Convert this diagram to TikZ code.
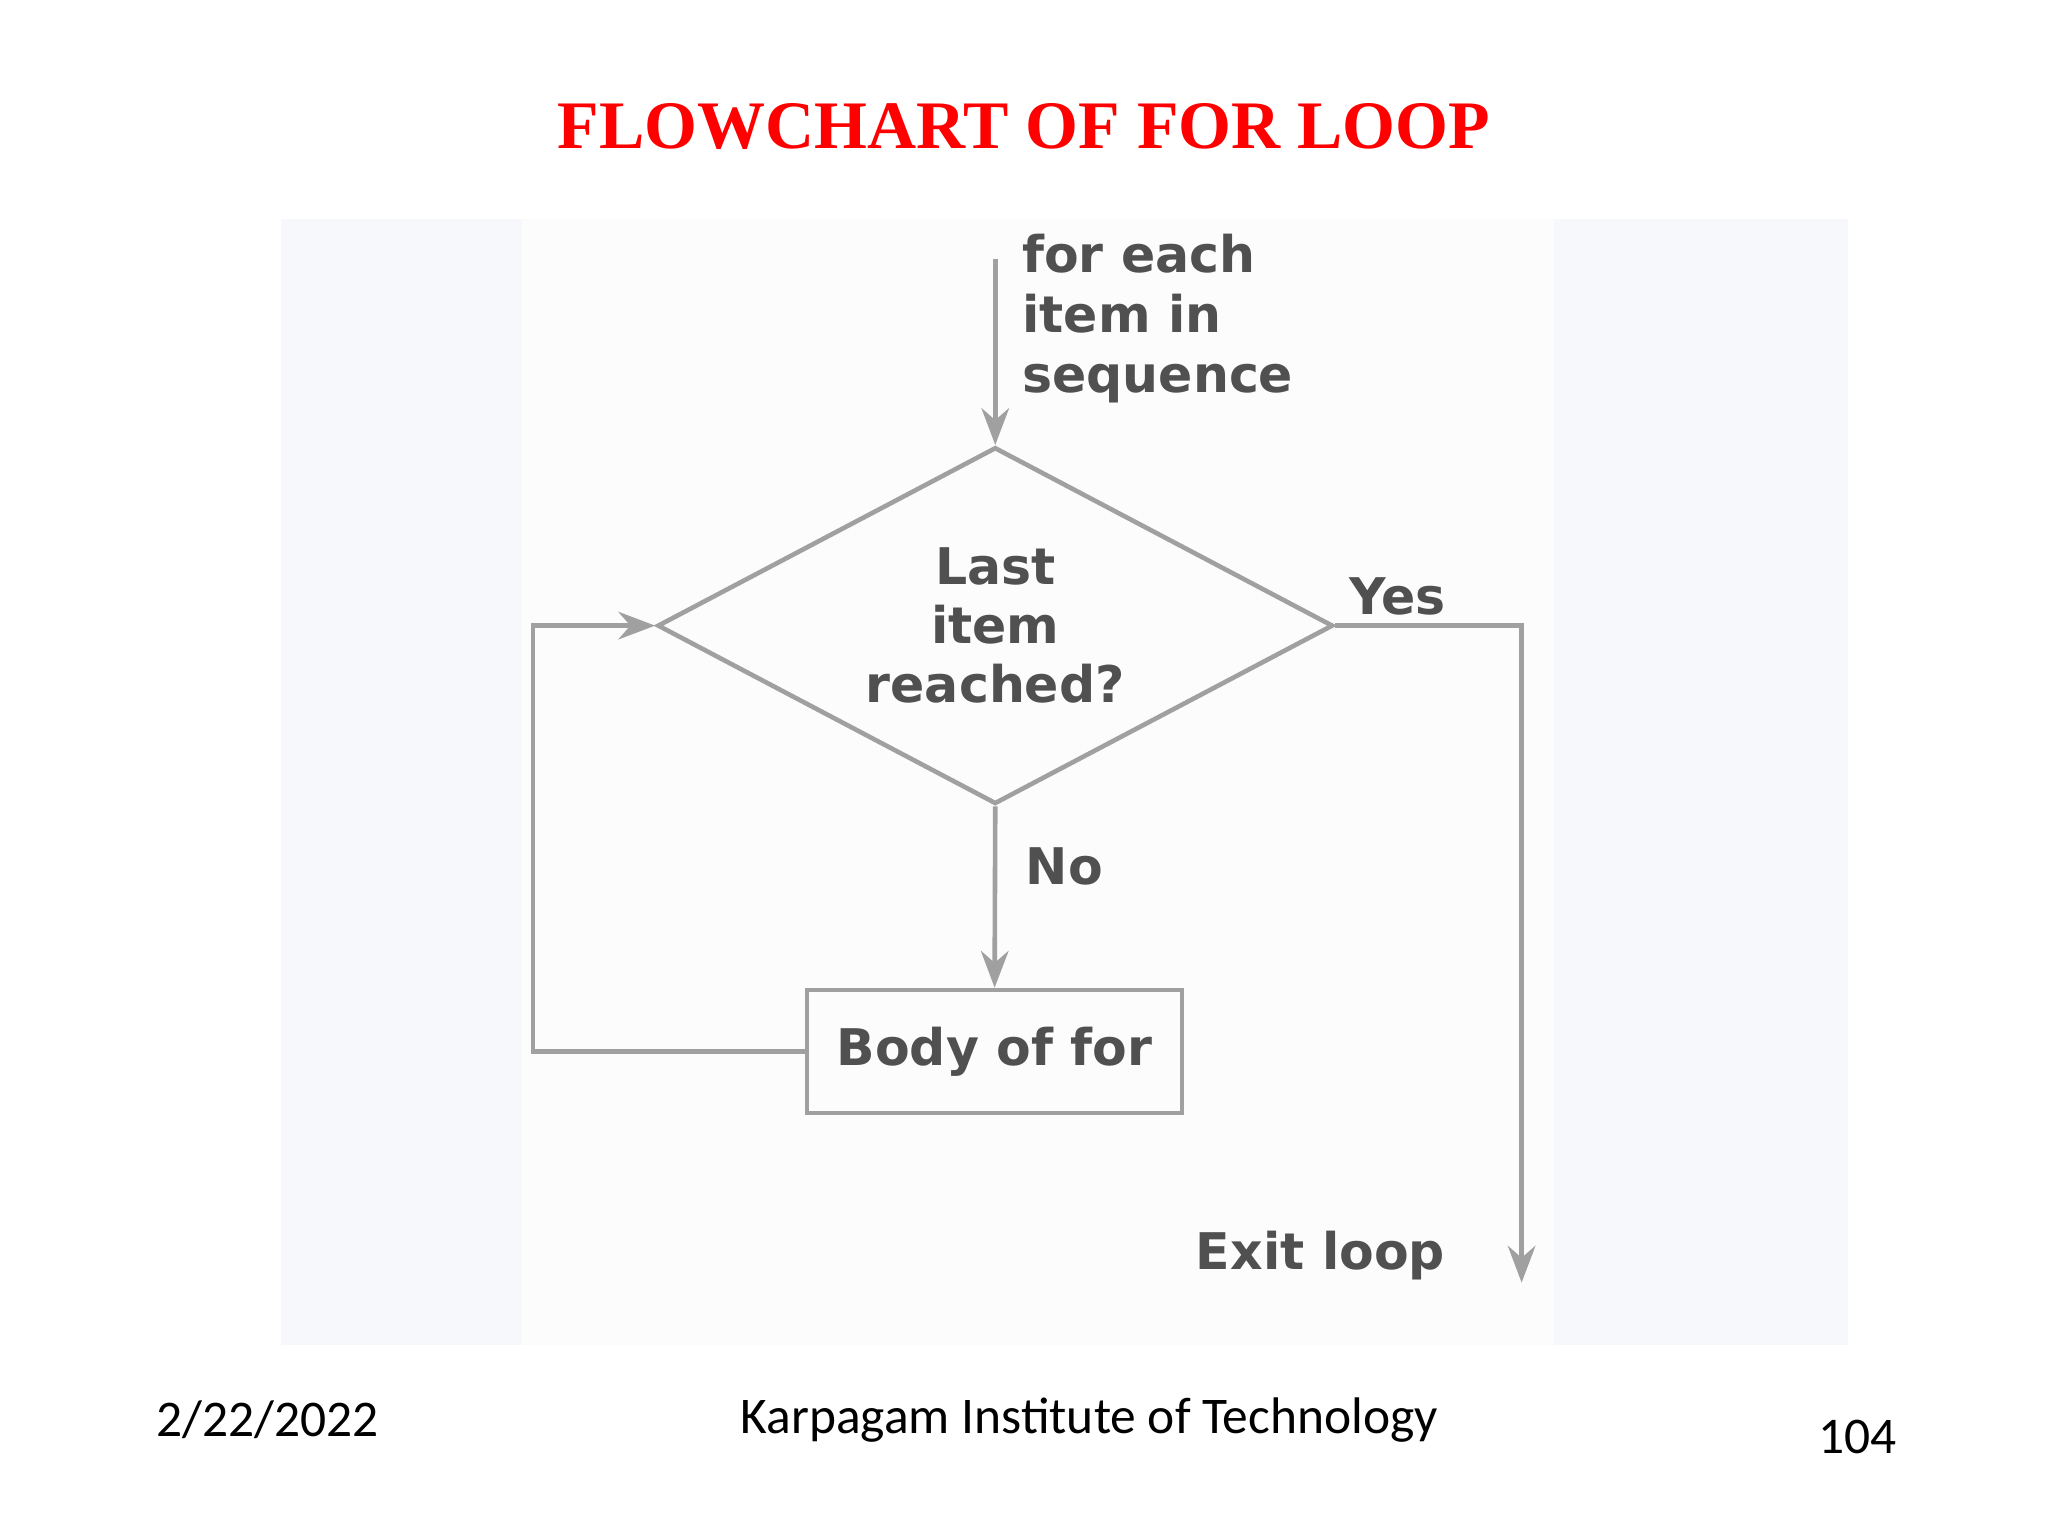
\documentclass[tikz,border=0pt]{standalone}
\usepackage{fontspec}
\setmainfont{Liberation Serif}
\newfontfamily\chartfont{DejaVu Sans}
\newfontfamily\footfont{Carlito}
\usetikzlibrary{shapes.geometric,arrows.meta}
\definecolor{linegray}{HTML}{A0A0A0}
\definecolor{textgray}{HTML}{505050}
\definecolor{panel}{HTML}{F7F8FB}
\begin{document}
\begin{tikzpicture}[x=0.01cm,y=-0.01cm,
    flow/.style={draw=linegray, line width=1pt, -{Stealth[length=8pt,width=6pt]}},
    lbl/.style={font=\chartfont\bfseries\fontsize{11}{12.8}\selectfont, text=textgray, inner sep=0pt},
    foot/.style={font=\footfont\fontsize{11.2}{13}\selectfont, inner sep=0pt}]
  \useasboundingbox (0,0) rectangle (1568,1176);
  \fill[panel] (215,168) rectangle (1415,1030);
  \fill[white!60!panel] (400,168) rectangle (1190,1030);
  \node[font=\bfseries\fontsize{14.8}{17}\selectfont, text=red, inner sep=0pt] (title) at (784,97) {FLOWCHART OF FOR LOOP};
  % chart
  \node[diamond, draw=linegray, line width=1pt, minimum width=5.17cm, minimum height=2.73cm,
        aspect=1.89, inner sep=0pt, align=center, lbl] (test) at (762,479) {Last\\item\\reached?};
  \node[draw=linegray, line width=1pt, minimum width=2.87cm, minimum height=0.94cm, lbl] (body) at (761.5,805) {Body of for};
  \coordinate (start) at (762,198);
  \coordinate (yescorner) at (1165,479);
  \coordinate (exit) at (1165,982);
  \coordinate (backlow) at (408,805);
  \coordinate (backhigh) at (408,479);
  \draw[flow] (start) -- (test.north);
  \draw[flow] (test.east) -- (yescorner) -- (exit);
  \draw[flow] (test.south) -- (body.north);
  \draw[flow] (body.west) -- (backlow) -- (backhigh) -- (test.west);
  \node[lbl, anchor=west, align=left, font=\chartfont\bfseries\fontsize{11}{13}\selectfont] (seq) at (782,244) {for each\\item in\\sequence};
  \node[lbl] (yes) at (1070,457) {Yes};
  \node[lbl] (no) at (815,663) {No};
  \node[lbl] (exitlbl) at (1011,961) {Exit loop};
  % footer
  \node[foot] (date) at (205,1087) {2/22/2022};
  \node[foot] (inst) at (834,1087) {Karpagam Institute of Technology};
  \node[foot] (page) at (1422,1100) {104};
\end{tikzpicture}
\end{document}
